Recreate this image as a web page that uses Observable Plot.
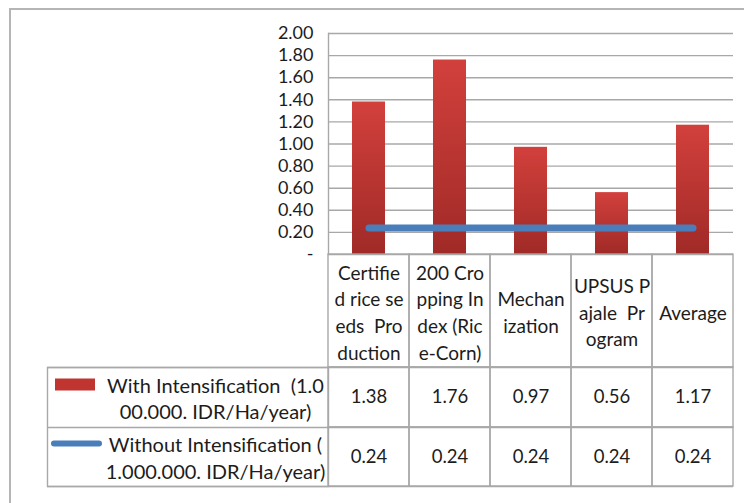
<!DOCTYPE html>
<html><head><meta charset="utf-8">
<script src="https://cdn.jsdelivr.net/npm/d3@7"></script>
<script src="https://cdn.jsdelivr.net/npm/@observablehq/plot@0.6"></script>
<style>
body{margin:0;background:#fff;}
#wrap{position:relative;width:744px;height:503px;overflow:hidden;background:#fff;}
#frame{position:absolute;left:9px;top:8px;width:800px;height:600px;border-top:2px solid #b5b5b5;border-left:2px solid #b5b5b5;}
#chart{position:absolute;left:0;top:0;}
</style></head><body>
<div id="wrap"><div id="frame"></div><div id="chart"></div></div>
<script>
// ---- data ----
const categories = ["Certified rice seeds Production", "200 Cropping Index (Rice-Corn)", "Mechanization", "UPSUS Pajale Program", "Average"];
const headerLabels = ["Certifie\nd rice se\neds  Pro\nduction", "200 Cro\npping In\ndex (Ric\ne-Corn)", "Mechan\nization", "UPSUS P\najale  Pr\nogram", "Average"];
const withIntensification = [1.38, 1.76, 0.97, 0.56, 1.17];
const withoutIntensification = [0.24, 0.24, 0.24, 0.24, 0.24];
const seriesLabels = ["With Intensification  (1.0\n00.000. IDR/Ha/year)", "Without Intensification (\n1.000.000. IDR/Ha/year)"];
const yTicks = [0, 0.2, 0.4, 0.6, 0.8, 1.0, 1.2, 1.4, 1.6, 1.8, 2.0];
const yTickLabels = ["-", "0.20", "0.40", "0.60", "0.80", "1.00", "1.20", "1.40", "1.60", "1.80", "2.00"];

// ---- layout ----
const W = 744, H = 503;
const mL = 328, mR = 11, mT = 33, mB = 249;
const plotH = H - mT - mB;           // 221
const yMax = 2;
const py = px => -px * yMax / plotH;  // pixel offset below the axis -> y units (extrapolated by the y scale)
const headerH = 113, row1H = 60, row2H = 59;
const labelColW = 281;
const gridColor = "#a8a8a8";
const textColor = "#1c1c1c";
const fs = 18;       // tick labels
const fsV = 18.5;    // table values
const fsH = 19;      // header labels
const fsR = 20;      // row labels
const lineGap = 26.7;

const rows = categories.map((c, i) => ({cat: c, header: headerLabels[i], w: withIntensification[i], wo: withoutIntensification[i]}));

const defs = () => {
  const d = d3.create("svg:defs");
  const g = d.append("linearGradient").attr("id", "barGrad").attr("x1", 0).attr("y1", 0).attr("x2", 0).attr("y2", 1);
  g.append("stop").attr("offset", "0%").attr("stop-color", "#d2403c");
  g.append("stop").attr("offset", "100%").attr("stop-color", "#a02a27");
  return d.node();
};

const r1 = headerH, r2 = headerH + row1H, r3 = headerH + row1H + row2H;

const chart = Plot.plot({
  width: W, height: H,
  marginLeft: mL, marginRight: mR, marginTop: mT, marginBottom: mB,
  style: {fontFamily: "Lato, 'Open Sans', sans-serif", fontSize: fs + "px", color: textColor, background: "transparent", overflow: "visible"},
  x: {domain: categories, padding: 0, axis: null},
  y: {domain: [0, yMax], axis: null},
  marks: [
    defs,
    // gridlines
    Plot.ruleY(yTicks, {stroke: gridColor, strokeWidth: 1.4}),
    Plot.axisY({ticks: yTicks, tickFormat: d => yTickLabels[yTicks.indexOf(d)], tickSize: 0, tickPadding: 15, fontSize: fs, fill: textColor}),
    Plot.frame({anchor: "left", stroke: gridColor, strokeWidth: 1.4}),
    // bars
    Plot.barY(rows, {x: "cat", y: "w", fill: "url(#barGrad)", insetLeft: 24, insetRight: 24}),
    // line
    Plot.lineY(rows, {x: "cat", y: "wo", stroke: "#4a7ebb", strokeWidth: 7, strokeLinecap: "round"}),
    // table: header cells and data cells
    Plot.barY(rows, {x: "cat", y1: 0, y2: py(r1), fill: "none", stroke: gridColor, strokeWidth: 1.4}),
    Plot.barY(rows, {x: "cat", y1: py(r1), y2: py(r2), fill: "none", stroke: gridColor, strokeWidth: 1.4}),
    Plot.barY(rows, {x: "cat", y1: py(r2), y2: py(r3), fill: "none", stroke: gridColor, strokeWidth: 1.4}),
    // row label column borders
    Plot.ruleY([py(r1), py(r2), py(r3)], {insetLeft: -labelColW, stroke: gridColor, strokeWidth: 1.4}),
    Plot.frame({insetLeft: -labelColW, insetRight: W - mL - mR, insetTop: plotH + r1, insetBottom: -r3, stroke: gridColor, strokeWidth: 1.4}),
    // header text
    Plot.text(rows, {x: "cat", y: py(r1 / 2), text: "header", lineHeight: lineGap / fsH, fill: textColor, fontSize: fsH}),
    // values
    Plot.text(rows, {x: "cat", y: py((r1 + r2) / 2), text: d => d.w.toFixed(2), fill: textColor, fontSize: fsV}),
    Plot.text(rows, {x: "cat", y: py((r2 + r3) / 2), text: d => d.wo.toFixed(2), fill: textColor, fontSize: fsV}),
    // row labels
    Plot.text([seriesLabels[0]], {y: py((r1 + r2) / 2), frameAnchor: "left", textAnchor: "middle", dx: -113, text: d => d, lineHeight: lineGap / fsR, fill: textColor, fontSize: fsR}),
    Plot.text([seriesLabels[1]], {y: py((r2 + r3) / 2), frameAnchor: "left", textAnchor: "middle", dx: -113, text: d => d, lineHeight: lineGap / fsR, fill: textColor, fontSize: fsR}),
    // legend swatches
    Plot.ruleY([py(130)], {insetLeft: -(mL - 55), insetRight: W - mR - 95, stroke: "#c0352f", strokeWidth: 12}),
    Plot.ruleY([py(189)], {insetLeft: -(mL - 54), insetRight: W - mR - 99, stroke: "#4a7ebb", strokeWidth: 6, strokeLinecap: "round"})
  ]
});
document.getElementById("chart").appendChild(chart);
</script>
</body></html>
